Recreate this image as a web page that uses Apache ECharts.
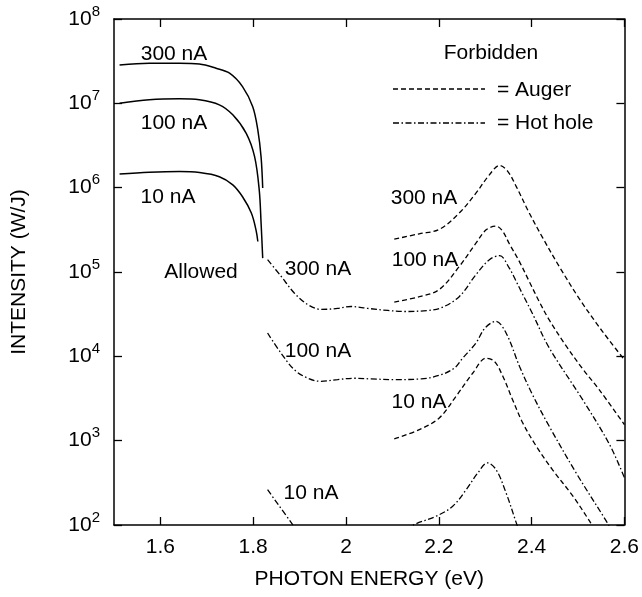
<!DOCTYPE html>
<html>
<head>
<meta charset="utf-8">
<script src="https://cdn.jsdelivr.net/npm/echarts@6/dist/echarts.min.js"></script>
<style>
  html, body { margin: 0; padding: 0; background: #fff; }
  #chart { width: 642px; height: 597px; }
</style>
</head>
<body>
<div id="chart"></div>
<script>
// tick values
const xTicks = [1.6, 1.8, 2.0, 2.2, 2.4, 2.6]
const yTicks = [1e2, 1e3, 1e4, 1e5, 1e6, 1e7, 1e8]

// allowed (solid) curves, [photon energy eV, intensity W/J]
const allowed300 = [[1.512, 2.85e7], [1.576, 2.99e7], [1.641, 2.99e7], [1.684, 2.93e7], [1.720, 2.61e7], [1.749, 2.28e7], [1.777, 1.58e7], [1.799, 9.1e6], [1.810, 4.8e6], [1.817, 2.3e6], [1.8205, 9.9e5]]
const allowed100 = [[1.512, 1.0e7], [1.576, 1.10e7], [1.641, 1.13e7], [1.684, 1.10e7], [1.727, 9.6e6], [1.756, 7.3e6], [1.785, 4.4e6], [1.803, 2.33e6], [1.813, 9.4e5], [1.817, 3.8e5], [1.8205, 1.46e5]]
const allowed10 = [[1.512, 1.45e6], [1.576, 1.52e6], [1.641, 1.55e6], [1.684, 1.51e6], [1.727, 1.35e6], [1.756, 1.08e6], [1.777, 7.8e5], [1.796, 5.0e5], [1.806, 3.16e5], [1.810, 2.3e5]]

// forbidden, Auger (dashed)
const auger300 = [[2.104, 2.45e5], [2.158, 2.84e5], [2.201, 3.2e5], [2.244, 5.0e5], [2.280, 8.6e5], [2.309, 1.42e6], [2.331, 1.83e6], [2.349, 1.55e6], [2.367, 1.03e6], [2.395, 5.0e5], [2.424, 2.54e5], [2.460, 1.15e5], [2.503, 4.8e4], [2.539, 2.5e4], [2.568, 1.53e4], [2.6, 9.1e3]]
const auger100 = [[2.104, 4.4e4], [2.158, 5.1e4], [2.201, 6.2e4], [2.244, 1.16e5], [2.280, 2.2e5], [2.302, 3.16e5], [2.323, 3.5e5], [2.337, 3.08e5], [2.352, 2.16e5], [2.374, 1.32e5], [2.395, 7.7e4], [2.417, 4.4e4], [2.438, 2.7e4], [2.474, 1.34e4], [2.510, 7.1e3], [2.546, 4.0e3], [2.6, 1.55e3]]
const auger10 = [[2.104, 1.05e3], [2.158, 1.35e3], [2.201, 1.86e3], [2.237, 3.35e3], [2.273, 6.3e3], [2.302, 9.5e3], [2.320, 8.7e3], [2.338, 5.8e3], [2.359, 3.06e3], [2.381, 1.62e3], [2.410, 860], [2.446, 445], [2.489, 220], [2.525, 111], [2.535, 89]]

// forbidden, hot hole (dash-dot)
const hotHole300 = [[1.831, 1.40e5], [1.860, 8.9e4], [1.889, 5.6e4], [1.918, 4.1e4], [1.946, 3.6e4], [1.982, 3.7e4], [2.011, 3.9e4], [2.047, 3.7e4], [2.090, 3.5e4], [2.126, 3.4e4], [2.176, 3.5e4], [2.205, 3.76e4], [2.244, 5.1e4], [2.280, 9.3e4], [2.309, 1.40e5], [2.331, 1.56e5], [2.352, 1.11e5], [2.367, 7.7e4], [2.381, 5.4e4], [2.402, 3.2e4], [2.438, 1.26e4], [2.510, 3.06e3], [2.568, 900], [2.6, 364]]
const hotHole100 = [[1.831, 1.89e4], [1.860, 1.09e4], [1.889, 6.9e3], [1.918, 5.5e3], [1.946, 5.05e3], [1.982, 5.3e3], [2.018, 5.5e3], [2.054, 5.4e3], [2.104, 5.3e3], [2.162, 5.4e3], [2.205, 6.05e3], [2.234, 7.3e3], [2.250, 9.3e3], [2.280, 1.44e4], [2.300, 2.18e4], [2.323, 2.6e4], [2.345, 1.89e4], [2.374, 7.6e3], [2.402, 3.5e3], [2.438, 1.48e3], [2.496, 414], [2.561, 111], [2.57, 89]]
const hotHole10Left = [[1.831, 262], [1.885, 101], [1.895, 85]]
const hotHole10Right = [[2.13, 85], [2.147, 101], [2.194, 127], [2.230, 167], [2.259, 262], [2.284, 414], [2.305, 545], [2.3235, 453], [2.345, 240], [2.367, 106], [2.372, 89]]

const FONT = '"Liberation Sans", Arial, Helvetica, sans-serif'
const INK = '#000'
const DASH = [5, 3]
const DASH_DOT = [6, 2.5, 1.5, 2.5]

function line (name, data, type, width) {
  return {
    name: name,
    type: 'line',
    data: data,
    showSymbol: false,
    smooth: 0.35,
    clip: true,
    silent: true,
    lineStyle: { color: INK, width: width, type: type }
  }
}

function label (text, x, y, align) {
  return {
    type: 'text',
    x: x,
    y: y,
    silent: true,
    style: {
      text: text,
      fill: INK,
      fontSize: 21,
      fontFamily: FONT,
      align: align || 'center',
      verticalAlign: 'middle'
    }
  }
}

const chart = echarts.init(document.getElementById('chart'), null, { renderer: 'canvas' })

const axisLineStyle = { show: true, lineStyle: { color: INK, width: 1.5 } }

chart.setOption({
  animation: false,
  backgroundColor: '#fff',
  grid: { left: 114, top: 19, width: 511, height: 506 },
  xAxis: [
    {
      type: 'value',
      min: 1.5,
      max: 2.6,
      position: 'bottom',
      name: 'PHOTON ENERGY (eV)',
      nameLocation: 'middle',
      nameGap: 44,
      nameTextStyle: { color: INK, fontSize: 21, fontFamily: FONT },
      axisLine: axisLineStyle,
      axisTick: { inside: true, length: 8, customValues: xTicks, lineStyle: { color: INK, width: 1.3 } },
      axisLabel: { customValues: xTicks, color: INK, fontSize: 21, fontFamily: FONT, margin: 12 },
      splitLine: { show: false }
    },
    {
      type: 'value',
      min: 1.5,
      max: 2.6,
      position: 'top',
      axisLine: axisLineStyle,
      axisTick: { inside: true, length: 8, customValues: xTicks, lineStyle: { color: INK, width: 1.3 } },
      axisLabel: { show: false },
      splitLine: { show: false }
    }
  ],
  yAxis: [
    {
      type: 'log',
      logBase: 10,
      min: 1e2,
      max: 1e8,
      position: 'left',
      name: 'INTENSITY (W/J)',
      nameLocation: 'middle',
      nameGap: 84,
      nameTextStyle: { color: INK, fontSize: 21, fontFamily: FONT },
      axisLine: axisLineStyle,
      axisTick: { inside: true, length: 8, customValues: yTicks, lineStyle: { color: INK, width: 1.3 } },
      axisLabel: {
        customValues: yTicks,
        margin: 14,
        formatter: v => '{b|10}{s|' + Math.round(Math.log10(v)) + '}',
        rich: {
          b: { fontSize: 21, lineHeight: 30, fontFamily: FONT, color: INK },
          s: { fontSize: 15, lineHeight: 12, verticalAlign: 'top', fontFamily: FONT, color: INK }
        }
      },
      splitLine: { show: false },
      minorTick: { show: false }
    },
    {
      type: 'log',
      logBase: 10,
      min: 1e2,
      max: 1e8,
      position: 'right',
      axisLine: axisLineStyle,
      axisTick: { inside: true, length: 8, customValues: yTicks, lineStyle: { color: INK, width: 1.3 } },
      axisLabel: { show: false },
      splitLine: { show: false }
    }
  ],
  series: [
    line('Allowed 300 nA', allowed300, 'solid', 1.5),
    line('Allowed 100 nA', allowed100, 'solid', 1.5),
    line('Allowed 10 nA', allowed10, 'solid', 1.5),
    line('Auger 300 nA', auger300, DASH, 1.3),
    line('Auger 100 nA', auger100, DASH, 1.3),
    line('Auger 10 nA', auger10, DASH, 1.3),
    line('Hot hole 300 nA', hotHole300, DASH_DOT, 1.3),
    line('Hot hole 100 nA', hotHole100, DASH_DOT, 1.3),
    line('Hot hole 10 nA', hotHole10Left, DASH_DOT, 1.3),
    line('Hot hole 10 nA ', hotHole10Right, DASH_DOT, 1.3)
  ],
  graphic: [
    label('300 nA', 174, 54),
    label('100 nA', 174, 123),
    label('10 nA', 168, 197),
    label('Allowed', 201, 272),
    label('300 nA', 318, 269),
    label('100 nA', 318, 351),
    label('10 nA', 311, 493),
    label('300 nA', 424, 198),
    label('100 nA', 425, 260),
    label('10 nA', 419, 402),
    label('Forbidden', 491, 53),
    {
      type: 'line',
      silent: true,
      shape: { x1: 393, y1: 89, x2: 485, y2: 89 },
      style: { stroke: INK, lineWidth: 1.3, lineDash: DASH }
    },
    label('= Auger', 497, 90, 'left'),
    {
      type: 'line',
      silent: true,
      shape: { x1: 393, y1: 123, x2: 485, y2: 123 },
      style: { stroke: INK, lineWidth: 1.3, lineDash: DASH_DOT }
    },
    label('= Hot hole', 497, 123, 'left')
  ]
})
</script>
</body>
</html>
